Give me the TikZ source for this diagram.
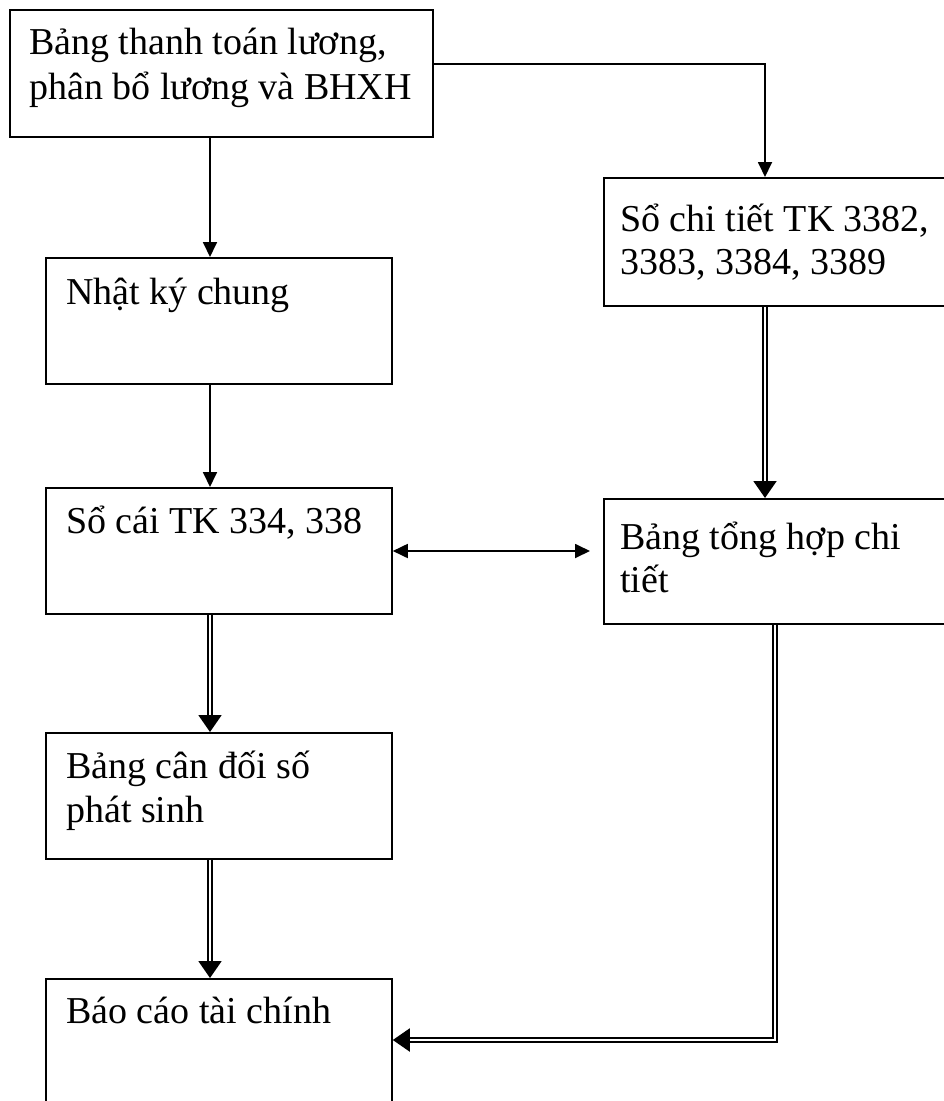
\documentclass[tikz,border=0pt]{standalone}
\usepackage{fontspec}
\setmainfont{Liberation Serif}
\usetikzlibrary{arrows.meta,calc}
\begin{document}
\begin{tikzpicture}[x=1pt,y=-1pt,
 box/.style={draw, line width=1.8pt, rectangle, inner sep=0pt, anchor=north west},
 txt/.style={anchor=base west, inner sep=0pt, font=\fontsize{38}{44}\selectfont},
 sarrow/.style={line width=1.8pt, -{Triangle[length=15pt,width=14pt]}},
 darrow/.style={double, double distance=2.6pt, line width=2pt, -{Triangle[length=17pt,width=23pt]}},
]
\clip (0,0) rectangle (944,1101);
\fill[white] (0,0) rectangle (944,1101);
% boxes
\node[box, minimum width=423pt, minimum height=127pt] (b1) at (9,9) {};
\node[box, minimum width=360pt, minimum height=128pt] (sct) at (603,177) {};
\node[box, minimum width=346pt, minimum height=126pt] (nk) at (45,257) {};
\node[box, minimum width=346pt, minimum height=126pt] (sc) at (45,487) {};
\node[box, minimum width=360pt, minimum height=125pt] (bth) at (603,498) {};
\node[box, minimum width=346pt, minimum height=126pt] (bcd) at (45,732) {};
\node[box, minimum width=346pt, minimum height=130pt] (bcc) at (45,978) {};
% texts
\node[txt] (t1a) at (29,54) {Bảng thanh toán lương,};
\node[txt] (t1b) at (29,99) {phân bổ lương và BHXH};
\node[txt] (t2a) at (620,231) {Sổ chi tiết TK 3382,};
\node[txt] (t2b) at (620,274) {3383, 3384, 3389};
\node[txt] (t3) at (66,304) {Nhật ký chung};
\node[txt] (t4) at (66,533) {Sổ cái TK 334, 338};
\node[txt] (t5a) at (620,549) {Bảng tổng hợp chi};
\node[txt] (t5b) at (620,592) {tiết};
\node[txt] (t6a) at (66,778) {Bảng cân đối số};
\node[txt] (t6b) at (66,822) {phát sinh};
\node[txt] (t7) at (66,1023) {Báo cáo tài chính};
% helper coordinates
\coordinate (colL) at (210,0);
\coordinate (colR) at (765,0);
\coordinate (colR2) at (775,0);
\coordinate (jt) at (0,64);
\coordinate (bi) at (590,551);
\coordinate (low) at (0,1040);
% connectors
\draw[sarrow] (b1.south -| colL) -- (nk.north -| colL);
\draw[sarrow] (nk.south -| colL) -- (sc.north -| colL);
\draw[sarrow] (b1.east |- jt) -- (colR |- jt) -- (sct.north -| colR);
\draw[line width=1.8pt, {Triangle[length=15pt,width=14pt]}-{Triangle[length=15pt,width=14pt]}] (sc.east |- bi) -- (bi);
\draw[darrow] (sc.south -| colL) -- (bcd.north -| colL);
\draw[darrow] (bcd.south -| colL) -- (bcc.north -| colL);
\draw[darrow] (sct.south -| colR) -- (bth.north -| colR);
\draw[darrow] (bth.south -| colR2) -- (colR2 |- low) -- (bcc.east |- low);
\end{tikzpicture}
\end{document}
